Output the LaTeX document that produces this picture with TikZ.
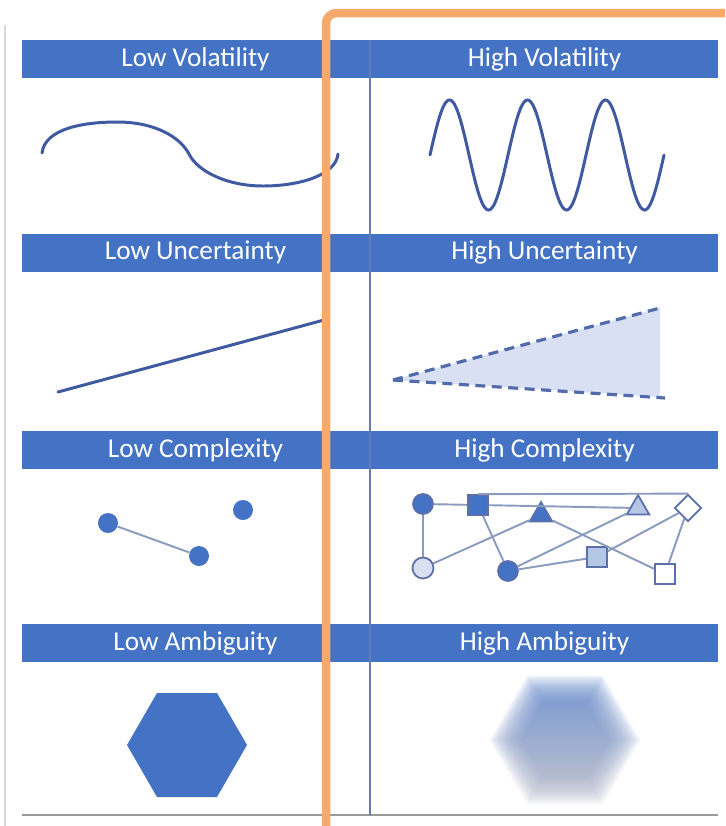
\documentclass[tikz,border=0pt]{standalone}
\usepackage{fontspec}
\setmainfont{Carlito}
\usepackage{tikz}
\usetikzlibrary{shapes.geometric, positioning}
\definecolor{barblue}{HTML}{4472C4}
\definecolor{curveblue}{HTML}{3F5AA0}
\definecolor{edgegrey}{HTML}{8A9BBF}
\definecolor{shapeline}{HTML}{5B70A8}
\definecolor{paleblue}{HTML}{B4C7E7}
\definecolor{wedgefill}{HTML}{D9E0F3}
\definecolor{frameorange}{HTML}{F8AA6C}
\definecolor{hexgrey}{HTML}{B8BACB}
\tikzstyle{hdr} = [fill=barblue, text=white, minimum width=6.94cm, minimum height=0.76cm, inner sep=0pt, font=\fontsize{15.5}{17}\selectfont]
\tikzstyle{curve} = [draw=curveblue, line width=1.7pt, line cap=round]
\tikzstyle{dashline} = [draw=curveblue!90!white, line width=1.8pt, dash pattern=on 0.2cm off 0.13cm]
\tikzstyle{dot} = [circle, fill=barblue, inner sep=0pt, minimum size=0.4cm]
\tikzstyle{edge} = [draw=edgegrey, line width=1.1pt]
\tikzstyle{gnode} = [draw=shapeline, line width=1pt, inner sep=0pt]

\begin{document}
\begin{tikzpicture}[x=0.02cm, y=-0.02cm]
  \clip (0,0) rectangle (725,826);
  \fill[white] (0,0) rectangle (725,826);

  % frame lines
  \draw[black!15, line width=0.8pt] (5,25) -- (5,826);
  \draw[black!40, line width=0.8pt] (22,815) -- (718,815);

  % headers
  \node [hdr] (lowvol) at (195.5,59) {Low Volatility};
  \node [hdr] (highvol) at (544.5,59) {High Volatility};
  \node [hdr] (lowunc) at (195.5,252.5) {Low Uncertainty};
  \node [hdr] (highunc) at (544.5,252.5) {High Uncertainty};
  \node [hdr] (lowcpx) at (195.5,450) {Low Complexity};
  \node [hdr] (highcpx) at (544.5,450) {High Complexity};
  \node [hdr] (lowamb) at (195.5,643) {Low Ambiguity};
  \node [hdr] (highamb) at (544.5,643) {High Ambiguity};
  \draw[curveblue!80, line width=0.7pt] (370,40) -- (370,815);

  % volatility
  \draw [curve] (42,153) .. controls (45,128) and (85,122) .. (117,122)
    .. controls (155,122) and (180,137) .. (189,154)
    .. controls (198,172) and (228,186) .. (263,186)
    .. controls (300,186) and (336,175) .. (338,154);
  \draw [curve] plot[domain=0:1080, samples=181, smooth] ({430+0.2167*\x}, {155-55*sin(\x)});

  % uncertainty
  \draw [curve] (58,392) -- (324,320);
  \coordinate (tip) at (393,380);
  \coordinate (upper) at (660,308);
  \coordinate (lower) at (665,398);
  \fill [wedgefill] (tip) -- (upper) -- (660,397) -- cycle;
  \path [dashline] (tip) -- (upper);
  \path [dashline] (tip) -- (lower);

  % low complexity
  \node [dot] (a) at (108,523) {};
  \node [dot] (b) at (243,510) {};
  \node [dot] (c) at (199,556) {};
  \path [edge] (a) -- (c);

  % high complexity
  \node [gnode, circle, fill=barblue, minimum size=0.4cm] (A) at (423,504) {};
  \node [gnode, rectangle, fill=barblue, minimum size=0.4cm] (B) at (478,505) {};
  \node [gnode, regular polygon, regular polygon sides=3, fill=barblue, minimum size=0.52cm] (C) at (541,515) {};
  \node [gnode, regular polygon, regular polygon sides=3, fill=paleblue, minimum size=0.52cm] (D) at (638,508) {};
  \node [gnode, diamond, fill=white, minimum size=0.54cm] (E) at (688,508) {};
  \node [gnode, circle, fill=wedgefill, minimum size=0.42cm] (F) at (423,568) {};
  \node [gnode, circle, fill=barblue, minimum size=0.4cm] (G) at (508,571) {};
  \node [gnode, rectangle, fill=paleblue, minimum size=0.4cm] (H) at (597,557) {};
  \node [gnode, rectangle, fill=white, minimum size=0.4cm] (I) at (665,574) {};
  \path [edge] (A) -- (B);
  \path [edge] (A) -- (F);
  \path [edge] (B.north) -- (E.north);
  \path [edge] (B) -- (D);
  \path [edge] (B) -- (G);
  \path [edge] (F) -- (C);
  \path [edge] (C) -- (I);
  \path [edge] (G) -- (D);
  \path [edge] (G) -- (H);
  \path [edge] (H) -- (E);
  \path [edge] (E) -- (I);

  % ambiguity
  \fill [barblue] (247,745) -- (217,693) -- (157,693) -- (127,745) -- (157,797) -- (217,797) -- cycle;
  \foreach \s in {0.70,0.72,...,1.24}
    \shade [top color=barblue!85!white, bottom color=hexgrey, fill opacity=0.06, shift={(565,740)}, scale=\s]
      (62,0) -- (31,-53) -- (-31,-53) -- (-62,0) -- (-31,53) -- (31,53) -- cycle;

  % highlight frame
  \draw [frameorange, line width=0.17cm, rounded corners=6pt] (326,850) -- (326,13) -- (760,13);
\end{tikzpicture}
\end{document}
